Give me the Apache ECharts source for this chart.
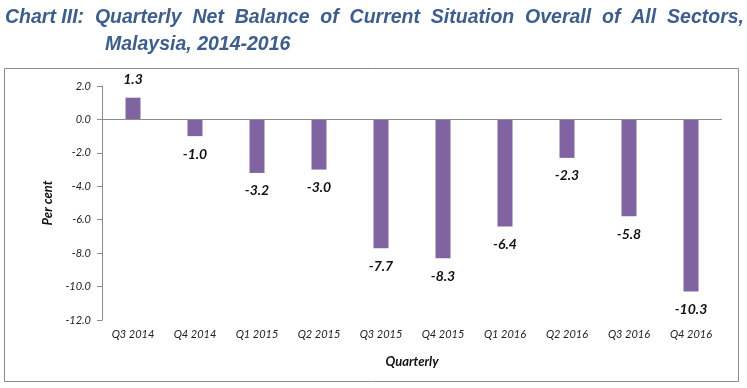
<!DOCTYPE html>
<html><head><meta charset="utf-8">
<script src="https://cdn.jsdelivr.net/npm/echarts@6/dist/echarts.min.js"></script>
<style>html,body{margin:0;padding:0;background:#fff}#c{width:747px;height:388px}</style>
</head><body><div id="c"></div>
<script>
const categories = ['Q3 2014','Q4 2014','Q1 2015','Q2 2015','Q3 2015','Q4 2015','Q1 2016','Q2 2016','Q3 2016','Q4 2016'];
const netBalance = [1.3, -1.0, -3.2, -3.0, -7.7, -8.3, -6.4, -2.3, -5.8, -10.3];
const titleLine1 = 'Chart III:  Quarterly  Net  Balance  of  Current  Situation  Overall  of  All  Sectors,';
const titleLine2 = 'Malaysia, 2014-2016';

const chart = echarts.init(document.getElementById('c'), null, {renderer:'canvas'});
const titleStyle = {fontFamily:'Liberation Sans, Arial', fontStyle:'italic', fontWeight:'bold', fontSize:19.5, color:'#3D5E8C'};
chart.setOption({
  animation:false,
  title:[
    {text:titleLine1, left:0, top:4, padding:[4,5], textStyle:titleStyle},
    {text:titleLine2, left:100, top:31, padding:[4,5], textStyle:titleStyle}
  ],
  graphic:[{type:'rect', shape:{x:4.5,y:68.5,width:734,height:313}, style:{fill:'none', stroke:'#8c8c8c', lineWidth:1}, silent:true}],
  grid:{left:102, right:25, top:86, bottom:68},
  xAxis:{type:'category', data:categories,
    axisLine:{show:false, onZero:false}, axisTick:{show:false},
    axisLabel:{fontFamily:'Lato, Noto Sans', fontStyle:'italic', fontSize:11, color:'#222', margin:9, interval:0},
    name:'Quarterly', nameLocation:'middle', nameGap:35,
    nameTextStyle:{fontFamily:'Lato, Noto Sans', fontStyle:'italic', fontWeight:'bold', fontSize:13, color:'#111'}
  },
  yAxis:{type:'value', min:-12, max:2, interval:2,
    axisLine:{show:true, lineStyle:{color:'#8c8c8c'}}, axisTick:{show:true, length:5, lineStyle:{color:'#8c8c8c'}},
    splitLine:{show:false},
    axisLabel:{fontFamily:'Lato, Noto Sans', fontStyle:'italic', fontSize:11, color:'#222', margin:11, formatter:v=>v.toFixed(1)},
    name:'Per cent', nameLocation:'middle', nameGap:46, nameRotate:90,
    nameTextStyle:{fontFamily:'Lato, Noto Sans', fontStyle:'italic', fontWeight:'bold', fontSize:13, color:'#111'}
  },
  series:[{type:'bar', data:netBalance.map(v=>({value:v, label:{position: v>=0?'top':'bottom'}})), barWidth:15,
    itemStyle:{color:'#8064A2'},
    label:{show:true, distance:11, formatter:p=>p.value.toFixed(1), fontFamily:'Lato, Noto Sans', fontStyle:'italic', fontWeight:'bold', fontSize:14, color:'#111'},
    markLine:{silent:true, symbol:'none', label:{show:false}, lineStyle:{color:'#8c8c8c', type:'solid', width:1}, data:[{yAxis:0}]}
  }]
});
</script></body></html>
